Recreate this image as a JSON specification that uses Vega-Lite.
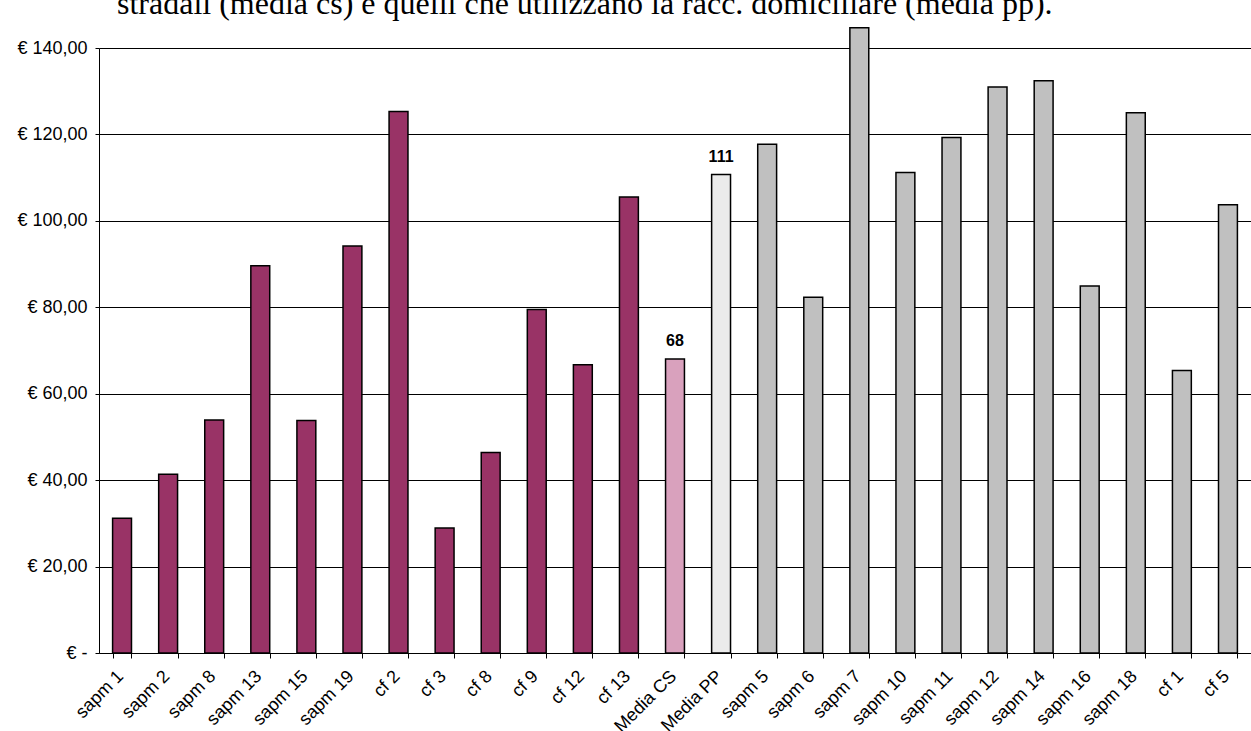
{
  "$schema": "https://vega.github.io/schema/vega-lite/v6.json",
  "autosize": {"type": "none"},
  "padding": {"left": 99, "top": 48, "right": 0, "bottom": 78},
  "width": 1152,
  "height": 605,
  "background": "white",
  "title": {
    "text": "stradali (media cs) e quelli che utilizzano la racc. domiciliare (media pp).",
    "font": "Liberation Serif",
    "fontSize": 32,
    "fontWeight": "normal",
    "color": "black",
    "anchor": "start",
    "frame": "group",
    "dx": 18,
    "baseline": "alphabetic",
    "offset": -19
  },
  "config": {
    "view": {"stroke": null},
    "axis": {
      "labelFont": "Liberation Sans",
      "labelFontSize": 18,
      "labelColor": "black",
      "domainColor": "black",
      "tickColor": "black",
      "title": null
    }
  },
  "data": {
    "values": [
      {"cat": "sapm 1", "value": 31.2, "group": "cs"},
      {"cat": "sapm 2", "value": 41.35, "group": "cs"},
      {"cat": "sapm 8", "value": 53.9, "group": "cs"},
      {"cat": "sapm 13", "value": 89.6, "group": "cs"},
      {"cat": "sapm 15", "value": 53.8, "group": "cs"},
      {"cat": "sapm 19", "value": 94.2, "group": "cs"},
      {"cat": "cf 2", "value": 125.3, "group": "cs"},
      {"cat": "cf 3", "value": 28.9, "group": "cs"},
      {"cat": "cf 8", "value": 46.4, "group": "cs"},
      {"cat": "cf 9", "value": 79.5, "group": "cs"},
      {"cat": "cf 12", "value": 66.7, "group": "cs"},
      {"cat": "cf 13", "value": 105.5, "group": "cs"},
      {"cat": "Media CS", "value": 68.03, "group": "media_cs"},
      {"cat": "Media PP", "value": 110.7, "group": "media_pp"},
      {"cat": "sapm 5", "value": 117.7, "group": "pp"},
      {"cat": "sapm 6", "value": 82.3, "group": "pp"},
      {"cat": "sapm 7", "value": 144.7, "group": "pp"},
      {"cat": "sapm 10", "value": 111.2, "group": "pp"},
      {"cat": "sapm 11", "value": 119.3, "group": "pp"},
      {"cat": "sapm 12", "value": 131.0, "group": "pp"},
      {"cat": "sapm 14", "value": 132.4, "group": "pp"},
      {"cat": "sapm 16", "value": 84.9, "group": "pp"},
      {"cat": "sapm 18", "value": 125.0, "group": "pp"},
      {"cat": "cf 1", "value": 65.4, "group": "pp"},
      {"cat": "cf 5", "value": 103.7, "group": "pp"}
    ]
  },
  "encoding": {
    "x": {
      "field": "cat",
      "type": "nominal",
      "sort": null,
      "scale": {"paddingInner": 0.59, "paddingOuter": 0.295},
      "axis": {
        "labelAngle": -45,
        "labelAlign": "right",
        "labelBaseline": "top",
        "labelPadding": 9,
        "labelOffset": -8,
        "tickSize": 5,
        "tickBand": "extent",
        "grid": false
      }
    },
    "y": {
      "field": "value",
      "type": "quantitative",
      "scale": {"domain": [0, 140], "nice": false, "zero": true},
      "axis": {
        "values": [0, 20, 40, 60, 80, 100, 120, 140],
        "labelExpr": "datum.value == 0 ? '€ -' : '€ ' + replace(format(datum.value, '.2f'), '.', ',')",
        "grid": true,
        "gridColor": "black",
        "gridWidth": 1,
        "gridOpacity": 1,
        "tickSize": 4,
        "labelPadding": 8
      }
    }
  },
  "layer": [
    {
      "mark": {"type": "bar", "stroke": "black", "strokeWidth": 1.5},
      "encoding": {
        "fill": {
          "field": "group",
          "type": "nominal",
          "scale": {
            "domain": ["cs", "media_cs", "media_pp", "pp"],
            "range": ["#993366", "#d9a1bd", "#ebebeb", "#c0c0c0"]
          },
          "legend": null
        }
      }
    },
    {
      "transform": [{"filter": "datum.group == 'media_cs' || datum.group == 'media_pp'"}],
      "mark": {
        "type": "text",
        "dy": -13,
        "baseline": "alphabetic",
        "font": "Liberation Sans",
        "fontSize": 16,
        "fontWeight": "bold",
        "color": "black"
      },
      "encoding": {
        "text": {"field": "value", "type": "quantitative", "format": ".0f"}
      }
    }
  ]
}
